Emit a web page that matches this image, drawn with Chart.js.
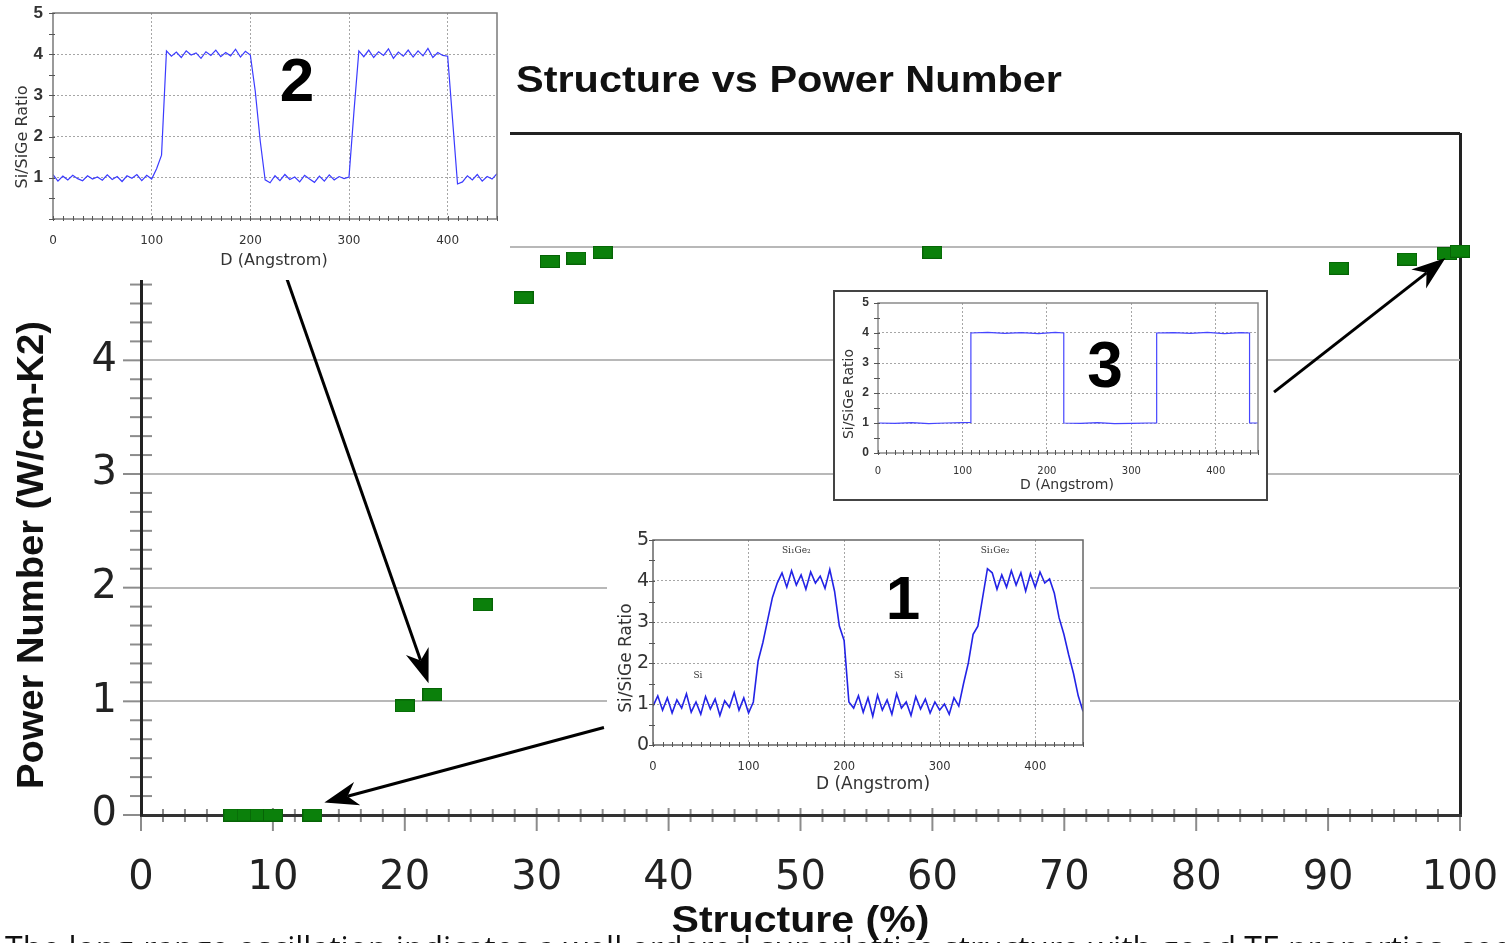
<!DOCTYPE html>
<html>
<head>
<meta charset="utf-8">
<title>Structure vs Power Number</title>
<script src="https://cdn.jsdelivr.net/npm/chart.js@4.4.1/dist/chart.umd.min.js"></script>
<style>
  html, body { margin: 0; padding: 0; background: #fff; }
  #wrap { position: relative; width: 1505px; height: 943px; overflow: hidden; }
  #wrap canvas { position: absolute; }
  #main { left: 0; top: 0; }
  #inset2 { left: 0; top: 0; background: #fff; }
  #box3 { position: absolute; left: 833px; top: 290px; width: 435px; height: 211px;
          box-sizing: border-box; border: 2px solid #444; background: #fff; }
  #inset3 { left: 0; top: 0; }
  #inset1 { left: 607px; top: 530px; background: #fff; }
</style>
</head>
<body>
<div id="wrap">
  <canvas id="main" width="1505" height="943"></canvas>
  <canvas id="inset2" width="510" height="280"></canvas>
  <div id="box3"><canvas id="inset3" width="431" height="207"></canvas></div>
  <canvas id="inset1" width="483" height="270"></canvas>
</div>
<script>
// main scatter: structure (%) vs power number
const structurePct = [7, 8, 9, 10, 13, 20, 22.1, 25.9, 29, 31, 33, 35, 60, 90.8, 96, 99, 100];
const powerNumber  = [0, 0, 0, 0, 0, 0.96, 1.06, 1.85, 4.55, 4.87, 4.90, 4.95, 4.95, 4.81, 4.89, 4.94, 4.96];

// depth profiles (Angstrom) for the Si/SiGe ratio insets
const depth = [0, 5, 10, 15, 20, 25, 30, 35, 40, 45, 50, 55, 60, 65, 70, 75, 80, 85, 90, 95,
  100, 105, 110, 115, 120, 125, 130, 135, 140, 145, 150, 155, 160, 165, 170, 175, 180, 185, 190, 195,
  200, 205, 210, 215, 220, 225, 230, 235, 240, 245, 250, 255, 260, 265, 270, 275, 280, 285, 290, 295,
  300, 305, 310, 315, 320, 325, 330, 335, 340, 345, 350, 355, 360, 365, 370, 375, 380, 385, 390, 395,
  400, 405, 410, 415, 420, 425, 430, 435, 440, 445, 450];

const ratio1 = [0.95, 1.2, 0.85, 1.15, 0.78, 1.1, 0.9, 1.25, 0.8, 1.05, 0.75, 1.18, 0.88, 1.12, 0.72, 1.08, 0.92, 1.28, 0.85, 1.15,
  0.78, 1.05, 2.05, 2.5, 3.05, 3.6, 3.95, 4.2, 3.85, 4.25, 3.9, 4.15, 3.8, 4.22, 3.95, 4.12, 3.82, 4.28, 3.75, 2.9,
  2.55, 1.05, 0.9, 1.2, 0.8, 1.15, 0.7, 1.22, 0.85, 1.1, 0.75, 1.25, 0.9, 1.05, 0.72, 1.18, 0.88, 1.12, 0.78, 1.05,
  0.85, 1.0, 0.75, 1.15, 0.95, 1.5, 2.0, 2.7, 2.9, 3.6, 4.3, 4.2, 3.8, 4.15, 3.85, 4.25, 3.9, 4.2, 3.75, 4.18,
  3.85, 4.22, 3.95, 4.05, 3.7, 3.1, 2.7, 2.2, 1.75, 1.2, 0.82];

const ratio2 = [1.08, 0.92, 1.04, 0.95, 1.06, 0.98, 0.93, 1.05, 0.97, 1.02, 0.94, 1.07, 0.96, 1.03, 0.91, 1.05, 0.99, 1.08, 0.93, 1.06,
  0.97, 1.22, 1.55, 4.08, 3.95, 4.05, 3.92, 4.08, 3.98, 4.03, 3.9, 4.06, 3.97, 4.1, 3.94, 4.04, 3.96, 4.12, 3.93, 4.07,
  3.98, 3.1, 1.9, 0.95, 0.88, 1.05, 0.93, 1.08, 0.96, 1.02, 0.9, 1.06, 0.97, 0.89, 1.04, 0.92, 1.07, 0.95, 1.03, 0.98,
  1.02, 2.6, 4.08, 3.94, 4.1, 3.92, 4.06, 3.97, 4.13, 3.9, 4.05, 3.95, 4.1, 3.93, 4.08, 3.96, 4.14, 3.92, 4.04, 3.97,
  3.95, 2.4, 0.85, 0.9, 1.05, 0.95, 1.08, 0.92, 1.03, 0.97, 1.1];

// sharp steps for sample 3
const depth3 = [0, 20, 40, 60, 80, 100, 110, 110, 130, 150, 170, 190, 210, 220, 220, 240, 260, 280, 300, 320, 330, 330, 350, 370, 390, 410, 430, 440, 440, 450];
const ratio3 = [1.0, 0.99, 1.01, 0.98, 1.0, 1.01, 1.02, 4.0, 4.02, 3.99, 4.01, 3.98, 4.02, 4.0, 1.0, 0.99, 1.01, 0.98, 0.99, 1.0, 1.0, 4.0, 4.01, 3.99, 4.02, 3.98, 4.01, 4.0, 1.0, 1.0];

// arrows from each inset to its sample point, in main-chart units
const arrowLinks = [
  { from: [10.9, 4.77], to: [21.8, 1.16] },
  { from: [35.1, 0.77], to: [13.9, 0.11] },
  { from: [85.9, 3.72], to: [98.9, 4.90] }
];

const FONT = "'Liberation Sans', Arial, sans-serif";
const WIDE = "'DejaVu Sans', sans-serif";
Chart.defaults.font.family = FONT;
const CLEAR = 'rgba(0,0,0,0)';

function rectMarker(w, h) {
  const c = document.createElement('canvas');
  c.width = w; c.height = h;
  const g = c.getContext('2d');
  g.fillStyle = '#0b800b';
  g.fillRect(0, 0, w, h);
  g.strokeStyle = '#066306';
  g.lineWidth = 1;
  g.strokeRect(0.5, 0.5, w - 1, h - 1);
  return c;
}

// text squeezed or stretched horizontally to a given width
function fitText(ctx, text, x, y, width) {
  const w = ctx.measureText(text).width;
  ctx.save();
  ctx.translate(x, y);
  ctx.scale(width / w, 1);
  ctx.fillText(text, 0, 0);
  ctx.restore();
}

function drawArrow(ctx, x1, y1, x2, y2) {
  const a = Math.atan2(y2 - y1, x2 - x1), c = Math.cos(a), s = Math.sin(a);
  const L = 34, W = 12, notch = 24;
  ctx.beginPath();
  ctx.moveTo(x1, y1);
  ctx.lineTo(x2 - notch * c, y2 - notch * s);
  ctx.stroke();
  ctx.beginPath();
  ctx.moveTo(x2, y2);
  ctx.lineTo(x2 - L * c + W * s, y2 - L * s - W * c);
  ctx.lineTo(x2 - notch * c, y2 - notch * s);
  ctx.lineTo(x2 - L * c - W * s, y2 - L * s + W * c);
  ctx.closePath();
  ctx.fill();
}

const mainDecor = {
  id: 'mainDecor',
  beforeDraw(chart) {
    const { ctx, chartArea: a, scales: { x, y } } = chart;
    ctx.save();
    ctx.strokeStyle = '#8c8c8c';
    ctx.lineWidth = 2;
    for (let k = 0; k <= 36; k++) {
      const py = y.getPixelForValue(k / 6);
      ctx.beginPath();
      if (k % 6 === 0) { ctx.moveTo(a.left - 18, py); ctx.lineTo(a.left, py); }
      else { ctx.moveTo(a.left - 11, py); ctx.lineTo(a.left + 11, py); }
      ctx.stroke();
    }
    for (let k = 0; k <= 60; k++) {
      const px = x.getPixelForValue(k * 10 / 6);
      ctx.beginPath();
      if (k % 6 === 0) { ctx.moveTo(px, a.bottom - 7); ctx.lineTo(px, a.bottom + 16); }
      else { ctx.moveTo(px, a.bottom - 6); ctx.lineTo(px, a.bottom + 7); }
      ctx.stroke();
    }
    ctx.restore();
  },
  afterDraw(chart) {
    const { ctx, chartArea: a, scales: { x, y } } = chart;
    ctx.save();
    ctx.fillStyle = '#111';
    ctx.font = 'bold 37px ' + FONT;
    ctx.textAlign = 'left';
    ctx.textBaseline = 'alphabetic';
    fitText(ctx, 'Structure vs Power Number', 516, 92, 546);

    ctx.textAlign = 'center';
    ctx.textBaseline = 'middle';
    fitText(ctx, 'Structure (%)', (a.left + a.right) / 2, 922, 258);
    ctx.save();
    ctx.translate(33, 555);
    ctx.rotate(-Math.PI / 2);
    fitText(ctx, 'Power Number (W/cm-K2)', 0, 0, 468);
    ctx.restore();

    ctx.strokeStyle = '#000';
    ctx.fillStyle = '#000';
    ctx.lineWidth = 3;
    arrowLinks.forEach(l => {
      drawArrow(ctx,
        x.getPixelForValue(l.from[0]), y.getPixelForValue(l.from[1]),
        x.getPixelForValue(l.to[0]), y.getPixelForValue(l.to[1]));
    });

    ctx.fillStyle = '#111';
    ctx.font = "32px 'Open Sans', sans-serif";
    ctx.textAlign = 'left';
    ctx.textBaseline = 'alphabetic';
    ctx.fillText('The long-range oscillation indicates a well ordered superlattice structure with good TE properties, see window #1', 5, 960);
    ctx.restore();
  }
};

new Chart(document.getElementById('main'), {
  type: 'scatter',
  data: {
    datasets: [{
      data: structurePct.map((v, i) => ({ x: v, y: powerNumber[i] })),
      pointStyle: rectMarker(20, 13),
      pointRadius: 10,
      clip: false
    }]
  },
  options: {
    responsive: false,
    animation: false,
    devicePixelRatio: 1,
    layout: { padding: { top: 133, right: 45, left: 0, bottom: 0 } },
    plugins: { legend: { display: false }, tooltip: { enabled: false } },
    scales: {
      x: {
        type: 'linear', min: 0, max: 100,
        afterFit: s => { s.height = 128; },
        ticks: { stepSize: 10, padding: 0, color: '#222', font: { family: WIDE, size: 40 } },
        grid: {
          drawTicks: true, tickLength: 40, tickColor: CLEAR,
          color: c => c.tick.value === 100 ? '#222' : CLEAR,
          lineWidth: 3
        },
        border: { color: '#333', width: 3 }
      },
      y: {
        min: 0, max: 6,
        afterFit: s => { s.width = 141; },
        ticks: { stepSize: 1, padding: 0, color: '#222', font: { family: WIDE, size: 40 },
                 callback: v => v <= 4 ? v : '' },
        grid: {
          drawTicks: true, tickLength: 24, tickColor: CLEAR,
          color: c => c.tick.value === 6 ? '#222' : (c.tick.value > 0 ? '#b8b8b8' : CLEAR),
          lineWidth: c => c.tick.value === 6 ? 3 : 2
        },
        border: { color: '#222', width: 3 }
      }
    }
  },
  plugins: [mainDecor]
});

// small Si/SiGe ratio chart inside the figure
function makeInset(id, xs, ys, s) {
  const decor = {
    id: 'insetDecor',
    afterDraw(chart) {
      const { ctx, chartArea: a, scales: { x, y } } = chart;
      ctx.save();
      ctx.strokeStyle = s.frame;
      ctx.lineWidth = 1.5;
      ctx.strokeRect(a.left, a.top, a.right - a.left, a.bottom - a.top);
      ctx.strokeStyle = '#555';
      ctx.lineWidth = 1;
      for (let v = 0; v <= 5; v += 0.5) {
        const py = Math.round(y.getPixelForValue(v)) + 0.5;
        ctx.beginPath(); ctx.moveTo(a.left - 4, py); ctx.lineTo(a.left + 2, py); ctx.stroke();
      }
      for (let d = 0; d <= 450; d += 10) {
        const px = Math.round(x.getPixelForValue(d)) + 0.5;
        ctx.beginPath(); ctx.moveTo(px, a.bottom - 3); ctx.lineTo(px, a.bottom + 2); ctx.stroke();
      }
      ctx.fillStyle = '#333';
      ctx.textAlign = 'center';
      ctx.textBaseline = 'middle';
      ctx.font = s.titleSize + 'px ' + WIDE;
      ctx.fillText('D (Angstrom)', s.xTitle[0], s.xTitle[1]);
      ctx.save();
      ctx.translate(s.yTitle[0], s.yTitle[1]);
      ctx.rotate(-Math.PI / 2);
      ctx.fillText('Si/SiGe Ratio', 0, 0);
      ctx.restore();
      ctx.fillStyle = '#000';
      ctx.font = 'bold ' + s.tagSize + 'px ' + FONT;
      ctx.fillText(s.tag, s.tagPos[0], s.tagPos[1]);
      ctx.fillStyle = '#333';
      ctx.font = "9px 'DejaVu Serif', serif";
      (s.notes || []).forEach(n => {
        ctx.fillText(n.text, x.getPixelForValue(n.x), y.getPixelForValue(n.y));
      });
      ctx.restore();
    }
  };
  return new Chart(document.getElementById(id), {
    type: 'line',
    data: {
      datasets: [{
        data: xs.map((v, i) => ({ x: v, y: ys[i] })),
        borderColor: s.lineColor,
        borderWidth: s.lineWidth,
        pointRadius: 0,
        tension: 0
      }]
    },
    options: {
      responsive: false,
      animation: false,
      devicePixelRatio: 1,
      layout: { padding: { top: s.top, right: s.right, left: 0, bottom: 0 } },
      plugins: { legend: { display: false }, tooltip: { enabled: false } },
      scales: {
        x: {
          type: 'linear', min: 0, max: 450,
          afterFit: sc => { sc.height = s.xh; },
          ticks: { stepSize: 100, padding: 0, color: '#333', font: { family: WIDE, size: s.xSize },
                   callback: v => v <= 400 ? v : '' },
          grid: {
            drawTicks: true, tickLength: s.xPad, tickColor: CLEAR,
            color: c => (c.tick.value > 0 && c.tick.value < 450) ? '#a6a6a6' : CLEAR,
            lineWidth: 1
          },
          border: { display: false, dash: [2, 2] }
        },
        y: {
          min: 0, max: 5,
          afterFit: sc => { sc.width = s.yw; },
          ticks: { stepSize: 1, padding: 0, color: '#333',
                   font: { family: s.yFamily, size: s.ySize, weight: s.yWeight, lineHeight: 1 },
                   callback: v => (v === 0 && !s.showZero) ? '' : v },
          grid: {
            drawTicks: true, tickLength: s.yPad, tickColor: CLEAR,
            color: c => (c.tick.value > 0 && c.tick.value < 5) ? '#a6a6a6' : CLEAR,
            lineWidth: 1
          },
          border: { display: false, dash: [2, 2] }
        }
      }
    },
    plugins: [decor]
  });
}

makeInset('inset2', depth, ratio2, {
  top: 13, right: 13, xh: 61, yw: 53, xPad: 15, yPad: 10, xSize: 12, ySize: 17, yWeight: 'bold',
  yFamily: FONT, showZero: false, titleSize: 16, xTitle: [274, 261], yTitle: [23, 137],
  tag: '2', tagSize: 62, tagPos: [297, 84], frame: '#7a7a7a', lineColor: '#3b3bff', lineWidth: 1.2
});

makeInset('inset3', depth3, ratio3, {
  top: 11, right: 8, xh: 46, yw: 43, xPad: 12, yPad: 9, xSize: 10, ySize: 12, yWeight: 'bold',
  yFamily: FONT, showZero: true, titleSize: 14, xTitle: [232, 193], yTitle: [14, 102],
  tag: '3', tagSize: 64, tagPos: [270, 77], frame: '#8a8a8a', lineColor: '#4646ff', lineWidth: 1.2
});

makeInset('inset1', depth, ratio1, {
  top: 10, right: 7, xh: 55, yw: 46, xPad: 15, yPad: 4, xSize: 11.5, ySize: 19, yWeight: 'normal',
  yFamily: WIDE, showZero: true, titleSize: 17, xTitle: [266, 255], yTitle: [20, 128],
  tag: '1', tagSize: 62, tagPos: [296, 72], frame: '#666', lineColor: '#2323e6', lineWidth: 1.6,
  notes: [
    { text: 'Si', x: 47, y: 1.7 },
    { text: 'Si', x: 257, y: 1.7 },
    { text: 'Si\u2081Ge\u2082', x: 150, y: 4.75 },
    { text: 'Si\u2081Ge\u2082', x: 358, y: 4.75 }
  ]
});
</script>
</body>
</html>
